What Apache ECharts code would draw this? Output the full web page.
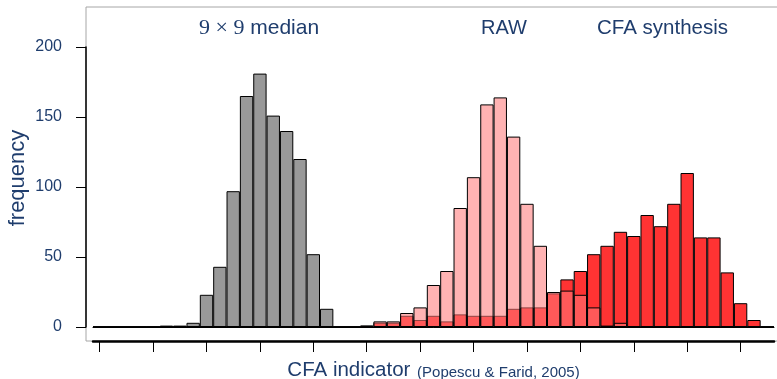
<!DOCTYPE html>
<html>
<head>
<meta charset="utf-8">
<script src="https://cdn.jsdelivr.net/npm/echarts@6/dist/echarts.min.js"></script>
<style>
  html, body { margin: 0; padding: 0; background: #fff; }
  #chart { width: 777px; height: 379px; }
</style>
</head>
<body>
<div id="chart"></div>
<script>
// histogram bins (index of each bin along the CFA indicator axis)
const bins = [
  0, 1, 2, 3, 4, 5, 6, 7, 8, 9, 10, 11, 12, 13, 14, 15, 16, 17, 18, 19,
  20, 21, 22, 23, 24, 25, 26, 27, 28, 29, 30, 31, 32, 33, 34, 35, 36, 37, 38, 39,
  40, 41, 42, 43, 44, 45, 46, 47, 48, 49, 50
];

// x ticks (unlabelled), one every 4 bins
const xTicks = [0, 4, 8, 12, 16, 20, 24, 28, 32, 36, 40, 44, 48];

// 9x9 median filtered
const medianData = [
  0, 0, 0, 0, 0, 1, 1, 3, 23, 43, 97, 165, 181, 151, 140, 120, 52, 13, 0, 0,
  0, 0, 0, 0, 0, 0, 0, 0, 0, 0, 0, 0, 0, 0, 0, 0, 0, 0, 0, 0,
  0, 0, 0, 0, 0, 0, 0, 0, 0, 0, 0
];

// RAW images
const rawData = [
  0, 0, 0, 0, 0, 0, 0, 0, 0, 0, 0, 0, 0, 0, 0, 0, 0, 0, 0, 0,
  1, 4, 4, 10, 14, 30, 40, 85, 107, 159, 164, 136, 88, 58, 25, 26, 23, 14, 1, 3,
  0, 0, 0, 0, 0, 0, 0, 0, 0, 0, 0
];

// CFA synthesis
const cfaData = [
  0, 0, 0, 0, 0, 0, 0, 0, 0, 0, 0, 0, 0, 0, 0, 0, 0, 0, 0, 0,
  1, 3, 3, 8, 5, 8, 4, 9, 8, 8, 8, 13, 14, 14, 24, 34, 40, 52, 58, 68,
  65, 80, 72, 88, 110, 64, 64, 39, 17, 5, 0
];

const yTicks = [0, 50, 100, 150, 200];

const textBlue = '#1f3d6d';

const chart = echarts.init(document.getElementById('chart'));

const option = {
  animation: false,
  backgroundColor: '#fff',
  grid: { left: 93, right: 3, top: 47, bottom: 52, outerBoundsMode: 'none', containLabel: false },
  graphic: [
    {
      type: 'rect',
      z: -1,
      shape: { x: 86, y: 7, width: 700, height: 334 },
      style: { fill: 'none', stroke: '#a6a6a6', lineWidth: 1 }
    }
  ],
  title: [
    {
      text: '{s|9 × 9} median',
      left: 194, top: 12,
      textStyle: {
        color: textBlue, fontSize: 21, fontWeight: 'normal', fontFamily: 'Liberation Sans',
        rich: { s: { fontFamily: 'Liberation Serif', fontSize: 22, color: textBlue } }
      }
    },
    {
      text: 'RAW',
      left: 476, top: 13,
      textStyle: { color: textBlue, fontSize: 20, fontWeight: 'normal', fontFamily: 'Liberation Sans' }
    },
    {
      text: 'CFA synthesis',
      left: 592, top: 13,
      textStyle: { color: textBlue, fontSize: 20.5, fontWeight: 'normal', fontFamily: 'Liberation Sans' }
    }
  ],
  xAxis: [
    {
      type: 'category',
      data: bins,
      axisLine: { lineStyle: { color: '#000', width: 1 } },
      axisTick: { show: false },
      axisLabel: { show: false }
    },
    {
      type: 'value',
      min: -0.5,
      max: 50.5,
      position: 'bottom',
      offset: 14,
      splitLine: { show: false },
      axisLine: { onZero: false, lineStyle: { color: '#000', width: 2.5 } },
      axisTick: { show: true, customValues: xTicks, length: 11, lineStyle: { color: '#000', width: 1 } },
      axisLabel: { show: false },
      name: '{a|CFA indicator}  {b|(Popescu & Farid, 2005)}',
      nameLocation: 'middle',
      nameGap: 19,
      nameTextStyle: {
        rich: {
          a: { fontSize: 20.5, color: textBlue, fontFamily: 'Liberation Sans' },
          b: { fontSize: 15, color: textBlue, fontFamily: 'Liberation Sans', padding: [4, 0, 0, 0] }
        }
      }
    }
  ],
  yAxis: {
    type: 'value',
    min: yTicks[0],
    max: yTicks[yTicks.length - 1],
    interval: 50,
    offset: 7,
    splitLine: { show: false },
    axisLine: { show: true, onZero: false, lineStyle: { color: '#000', width: 1.5 } },
    axisTick: { show: true, length: 10, lineStyle: { color: '#000' } },
    axisLabel: { color: textBlue, fontSize: 16, fontFamily: 'Liberation Sans', margin: 24 },
    name: 'frequency',
    nameLocation: 'middle',
    nameGap: 57,
    nameMoveOverlap: false,
    nameTextStyle: { color: textBlue, fontSize: 22, fontFamily: 'Liberation Sans', padding: [0, 0, 0, 18] }
  },
  series: [
    {
      name: '9x9 median',
      type: 'bar',
      xAxisIndex: 0,
      data: medianData,
      barWidth: '100%',
      barGap: '-100%',
      itemStyle: { color: '#999999', borderColor: '#000', borderWidth: 1 }
    },
    {
      name: 'CFA synthesis',
      type: 'bar',
      xAxisIndex: 0,
      data: cfaData,
      barWidth: '100%',
      barGap: '-100%',
      itemStyle: { color: '#ff3333', borderColor: '#000', borderWidth: 1 }
    },
    {
      name: 'RAW',
      type: 'bar',
      xAxisIndex: 0,
      data: rawData,
      barWidth: '100%',
      barGap: '-100%',
      itemStyle: { color: 'rgba(255,120,120,0.56)', borderColor: '#000', borderWidth: 1 }
    }
  ]
};

chart.setOption(option);
</script>
</body>
</html>
